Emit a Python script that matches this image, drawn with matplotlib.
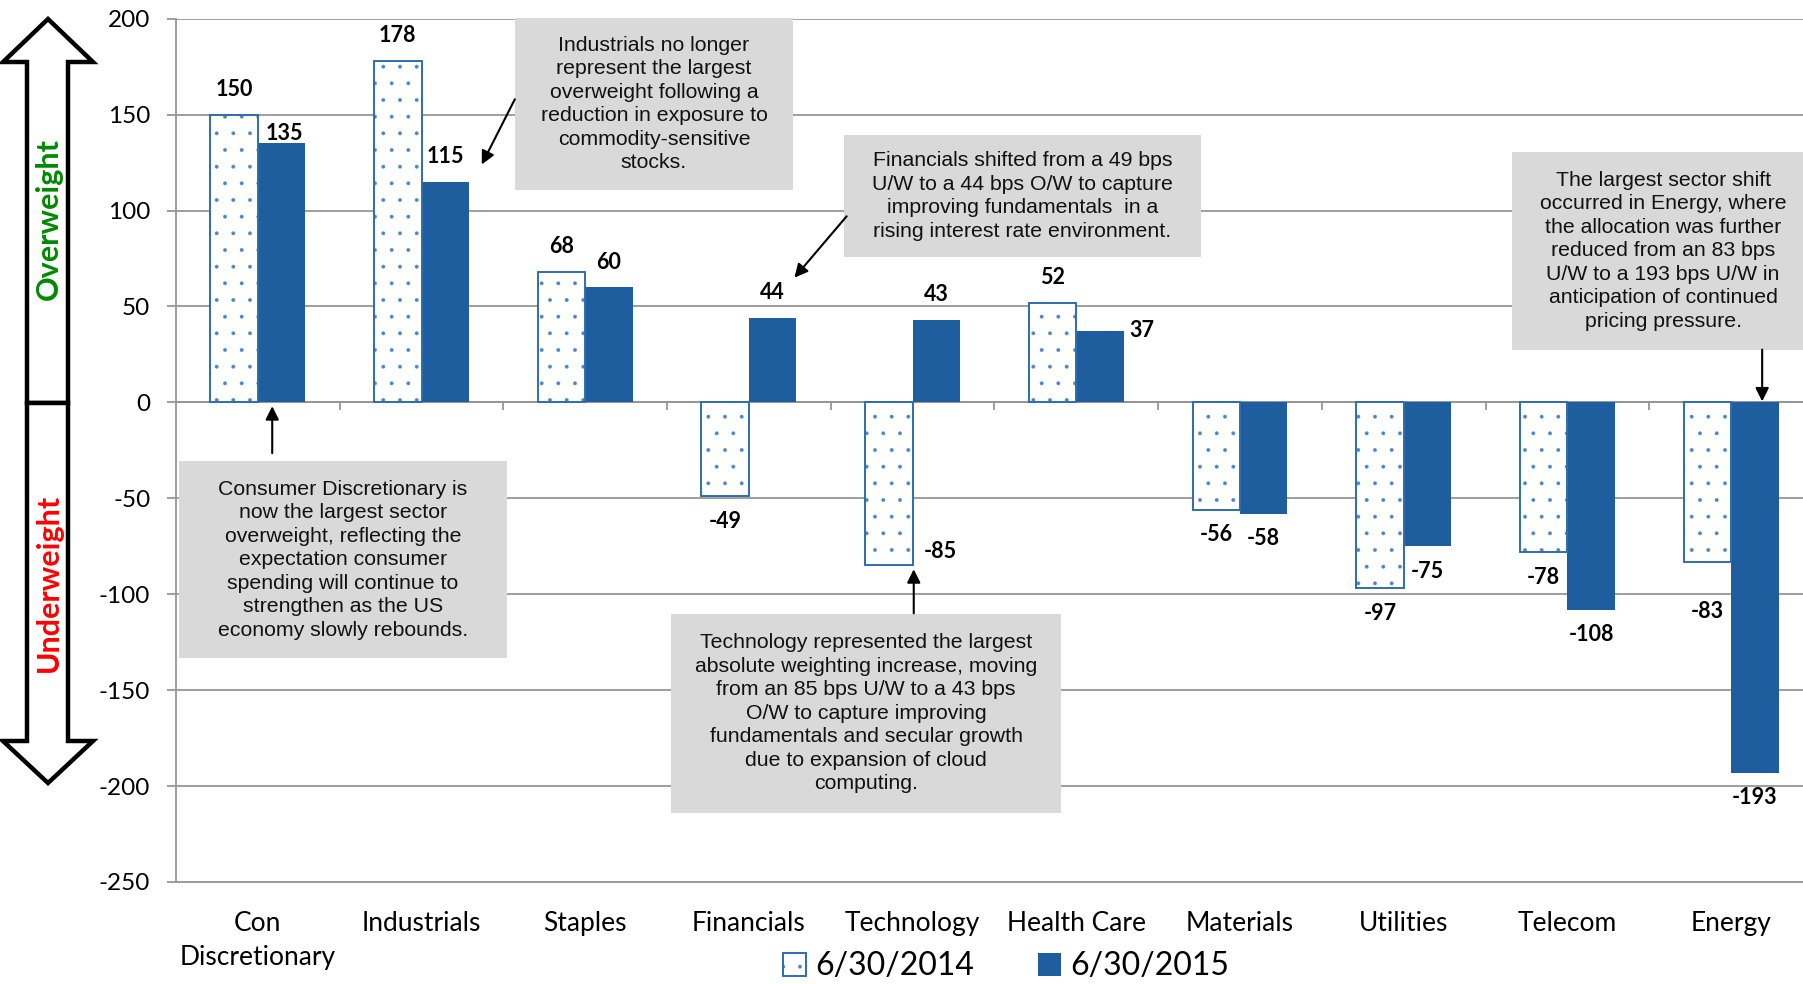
import matplotlib.pyplot as plt
import matplotlib.patches as mpatches
import numpy as np

# sector weights vs benchmark (bps)
sectors = ['Con\nDiscretionary', 'Industrials', 'Staples', 'Financials', 'Technology',
           'Health Care', 'Materials', 'Utilities', 'Telecom', 'Energy']
w_2014 = [150, 178, 68, -49, -85, 52, -56, -97, -78, -83]
w_2015 = [135, 115, 60, 44, 43, 37, -58, -75, -108, -193]
series_names = ['6/30/2014', '6/30/2015']
y_ticks = [200, 150, 100, 50, 0, -50, -100, -150, -200, -250]

blue = '#1F5E9E'
edge_blue = '#2E6DAE'
dot_blue = '#4A86C5'
gray = '#969696'
box_gray = '#D9D9D9'

plt.rcParams['font.family'] = ['Lato', 'DejaVu Sans']
plt.rcParams['axes.unicode_minus'] = False
plt.rcParams['hatch.linewidth'] = 0.3

fig = plt.figure(figsize=(18.03, 9.84), dpi=100)
ax = fig.add_axes([0.0976, 0.1037, 0.9079, 0.8773])

x = np.arange(len(sectors))
bw = 0.29
# hollow dotted bars: dots layer + outline layer
b1_dots = ax.bar(x - bw / 2, w_2014, bw, facecolor='white', edgecolor=dot_blue,
                 hatch='.', linewidth=0, zorder=3)
b1_edge = ax.bar(x - bw / 2, w_2014, bw, facecolor='none', edgecolor=edge_blue,
                 linewidth=1.4, zorder=3.1)
b2 = ax.bar(x + bw / 2, w_2015, bw, color=blue, zorder=3)

ax.set_xlim(-0.5, len(sectors) - 0.5)
ax.set_ylim(-250, 200)
ax.set_yticks(y_ticks)
ax.set_xticks(x)
ax.set_xticklabels(sectors, fontsize=19)
for lbl in ax.get_xticklabels():
    lbl.set_linespacing(1.45)
ax.tick_params(axis='x', length=0, pad=21)
ax.tick_params(axis='y', labelsize=17.5, length=6.5, color=gray, width=1.3, pad=12)
ax.grid(axis='y', color=gray, linewidth=1.3, zorder=0)
for s in ['top', 'right']:
    ax.spines[s].set_visible(False)
ax.spines['left'].set_color(gray)
ax.spines['left'].set_linewidth(1.3)
ax.spines['bottom'].set_color(gray)
ax.spines['bottom'].set_linewidth(1.3)

# category axis crossing at zero with boundary ticks
sec = ax.secondary_xaxis(250 / 450)
sec.set_alignment('bottom')
sec.set_xticks(x[:-1] + 0.5)
sec.tick_params(length=6, color=gray, width=1.3, labelbottom=False)
sec.spines['bottom'].set_color(gray)
sec.spines['bottom'].set_linewidth(1.3)

# data labels (a few were moved by hand in the original)
special_2014 = {-85: (37, 10), -83: (0, -36)}
special_2015 = {37: (30, 1), 135: (2, 7)}
lab_kw = dict(textcoords='offset points', ha='center', va='center',
              fontsize=15.5, fontweight='bold')
for xs, vals, special in ((x - bw / 2, w_2014, special_2014),
                          (x + bw / 2, w_2015, special_2015)):
    for xi, v in zip(xs, vals):
        off = special.get(v, (0, 18 if v > 0 else -18))
        ax.annotate(str(v), (xi, v), xytext=off, **lab_kw)

# commentary boxes (data coords) and arrows
notes = [
    ((-0.48, -133.5, 2.0, 103.0),
     "Consumer Discretionary is\nnow the largest sector\noverweight, reflecting the\n"
     "expectation consumer\nspending will continue to\nstrengthen as the US\n"
     "economy slowly rebounds.",
     (0.088, -26.5), (0.088, -2)),
    ((1.57, 110.5, 1.70, 90.0),
     "Industrials no longer\nrepresent the largest\noverweight following a\n"
     "reduction in exposure to\ncommodity-sensitive\nstocks.",
     (1.57, 158), (1.368, 124)),
    ((3.58, 76.0, 2.18, 63.3),
     "Financials shifted from a 49 bps\nU/W to a 44 bps O/W to capture\n"
     "improving fundamentals  in a\nrising interest rate environment.",
     (3.597, 97), (3.278, 65)),
    ((2.525, -213.8, 2.382, 103.6),
     "Technology represented the largest\nabsolute weighting increase, moving\n"
     "from an 85 bps U/W to a 43 bps\nO/W to capture improving\n"
     "fundamentals and secular growth\ndue to expansion of cloud\ncomputing.",
     (4.007, -110), (4.007, -87)),
    ((7.66, 27.5, 1.85, 103.1),
     "The largest sector shift\noccurred in Energy, where\nthe allocation was further\n"
     "reduced from an 83 bps\nU/W to a 193 bps U/W in\nanticipation of continued\n"
     "pricing pressure.",
     (9.19, 27.5), (9.19, 0.5)),
]
for (bx, by, bwid, bh), txt, start, end in notes:
    ax.add_patch(mpatches.Rectangle((bx, by), bwid, bh, facecolor=box_gray,
                                    edgecolor='none', zorder=5, clip_on=False))
    ax.text(bx + bwid / 2, by + bh / 2, txt, ha='center', va='center',
            fontsize=15.3, family=['Liberation Sans', 'DejaVu Sans'],
            linespacing=1.3, zorder=6, color='#111111')
    ax.annotate('', xy=end, xytext=start,
                arrowprops=dict(arrowstyle='-|>', color='black', lw=1.5,
                                mutation_scale=20, shrinkA=0, shrinkB=0),
                zorder=6, annotation_clip=False)

leg = ax.legend([(b1_dots, b1_edge), b2], series_names, loc='center',
                bbox_to_anchor=(0.558, 0.018), bbox_transform=fig.transFigure,
                ncol=2, frameon=False, fontsize=23, handlelength=0.72,
                handleheight=0.72, handletextpad=0.3, columnspacing=2.0)

# overweight / underweight block arrows (figure pixel space)
ov = fig.add_axes([0, 0, 1, 1], zorder=-1)
ov.set_xlim(0, 1803)
ov.set_ylim(984, 0)
ov.axis('off')
up = [(27, 403), (27, 62), (3, 62), (48, 19), (93, 62), (68, 62), (68, 403)]
down = [(27, 403), (27, 741), (3, 741), (48, 783), (93, 741), (68, 741), (68, 403)]
for pts in (up, down):
    ov.add_patch(mpatches.Polygon(pts, closed=True, facecolor='white',
                                  edgecolor='black', linewidth=3.2, joinstyle='miter'))
ov.text(49, 219, 'Overweight', rotation=90, ha='center', va='center',
        color='#008A00', fontsize=22, fontweight='bold')
ov.text(49, 583, 'Underweight', rotation=90, ha='center', va='center',
        color='#FF0000', fontsize=22, fontweight='bold')

fig.savefig('out.png', dpi=100)
